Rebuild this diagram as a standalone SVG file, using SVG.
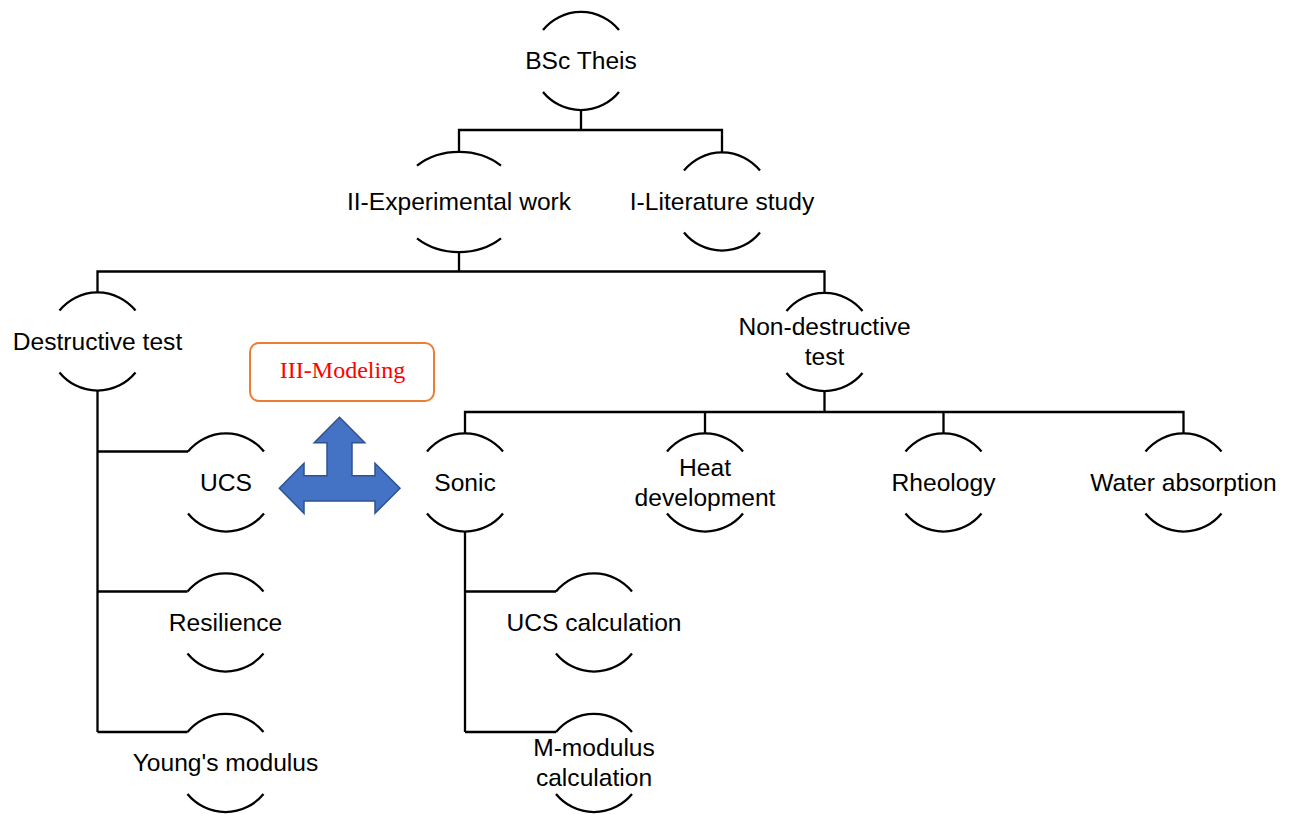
<svg xmlns="http://www.w3.org/2000/svg" xmlns:xlink="http://www.w3.org/1999/xlink" width="1298" height="814" viewBox="0 0 1298 814">
<style>
.arc{fill:none;stroke:#000;stroke-width:2.3}
.con{fill:none;stroke:#000;stroke-width:2.3}
.lbl{font-family:"Liberation Sans",Arial,sans-serif;font-size:24.6px;fill:#000;text-anchor:middle}
.mod{font-family:"Liberation Serif","Times New Roman",serif;font-size:24px;fill:#FF0000;text-anchor:middle}
</style>
<defs>
<path id="ring" d="M-38 -31 A49 49 0 0 1 38 -31 M-38 31 A49 49 0 0 0 38 31"/>
<path id="ringW" d="M-42 -36.3 A61 50 0 0 1 42 -36.3 M-42 36.3 A61 50 0 0 0 42 36.3"/>
</defs>
<rect width="1298" height="814" fill="#fff"/>
<g id="connectors" class="con">
<path d="M581 110 V130 M459 152 V130 H722 V152.5"/>
<path d="M459 252 V271.5 M97.5 292.5 V271.5 H824.5 V293"/>
<path d="M824.5 391 V412 M465 433.5 V412 H1183.5 V433.5 M705 433.5 V412 M943.5 433.5 V412"/>
<path d="M97.5 390.5 V732 M97.5 451.5 H188 M97.5 591.5 H187.5 M97.5 732 H187.5"/>
<path d="M465 531.5 V732 M465 591.5 H556 M465 732 H556"/>
</g>
<g id="n-bsc" transform="translate(581,61)"><use href="#ring" class="arc"/><text class="lbl" y="8">BSc Theis</text></g>
<g id="n-exp" transform="translate(459,202)"><use href="#ringW" class="arc"/><text class="lbl" y="8">II-Experimental work</text></g>
<g id="n-lit" transform="translate(722,201.5)"><use href="#ring" class="arc"/><text class="lbl" y="8">I-Literature study</text></g>
<g id="n-destr" transform="translate(97.5,341.5)"><use href="#ring" class="arc"/><text class="lbl" y="8">Destructive test</text></g>
<g id="n-nondestr" transform="translate(824.5,342)"><use href="#ring" class="arc"/><text class="lbl" y="-7">Non-destructive</text><text class="lbl" y="23">test</text></g>
<g id="n-ucs" transform="translate(226,482.5)"><use href="#ring" class="arc"/><text class="lbl" y="8">UCS</text></g>
<g id="n-sonic" transform="translate(465,482.5)"><use href="#ring" class="arc"/><text class="lbl" y="8">Sonic</text></g>
<g id="n-heat" transform="translate(705,482.5)"><use href="#ring" class="arc"/><text class="lbl" y="-7">Heat</text><text class="lbl" y="23">development</text></g>
<g id="n-rheo" transform="translate(943.5,482.5)"><use href="#ring" class="arc"/><text class="lbl" y="8">Rheology</text></g>
<g id="n-water" transform="translate(1183.5,482.5)"><use href="#ring" class="arc"/><text class="lbl" y="8">Water absorption</text></g>
<g id="n-resil" transform="translate(225.5,622.5)"><use href="#ring" class="arc"/><text class="lbl" y="8">Resilience</text></g>
<g id="n-ucscalc" transform="translate(594,622.5)"><use href="#ring" class="arc"/><text class="lbl" y="8">UCS calculation</text></g>
<g id="n-young" transform="translate(225.5,763)"><use href="#ring" class="arc"/><text class="lbl" y="8">Young's modulus</text></g>
<g id="n-mmod" transform="translate(594,763)"><use href="#ring" class="arc"/><text class="lbl" y="-7">M-modulus</text><text class="lbl" y="23">calculation</text></g>
<g id="n-modeling"><rect x="250" y="343" width="184" height="58" rx="9" fill="#fff" stroke="#ED7D31" stroke-width="2"/><text class="mod" x="342.5" y="378">III-Modeling</text></g>
<g id="arrow3"><polygon points="339.5,417.3 364.8,442.7 352,442.7 352,475.7 375,475.7 375,463.3 400,488.3 375,513.3 375,501 304,501 304,513.3 279.3,488.3 304,463.3 304,475.7 327,475.7 327,442.7 314.2,442.7" fill="#4472C4" stroke="#2F528F" stroke-width="1.5" stroke-linejoin="miter"/></g>
</svg>
